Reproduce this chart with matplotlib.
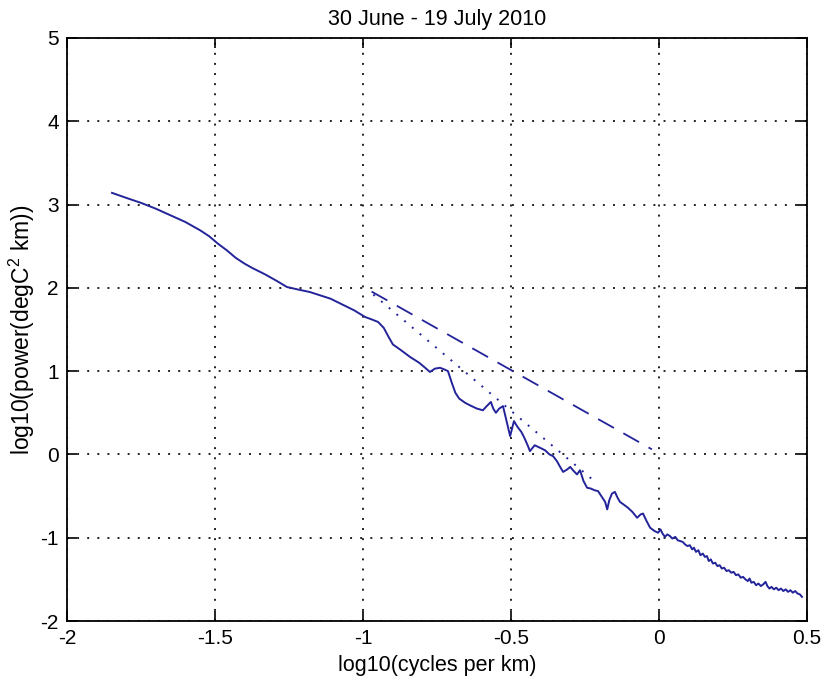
import numpy as np
import matplotlib.pyplot as plt

plt.rcParams['font.family'] = ['Liberation Sans', 'DejaVu Sans']
plt.rcParams['mathtext.default'] = 'regular'
plt.rcParams['axes.unicode_minus'] = False

# wavenumber spectrum (log10 cycles per km vs log10 power)
log_k = [-1.848, -1.80, -1.75, -1.70, -1.65, -1.60, -1.55, -1.52, -1.49, -1.46,
         -1.43, -1.40, -1.375, -1.33, -1.29, -1.257, -1.22, -1.18, -1.145, -1.11,
         -1.07, -1.03, -0.993, -0.97, -0.949, -0.93, -0.915, -0.899, -0.875, -0.841,
         -0.81, -0.79, -0.774, -0.757, -0.74, -0.725, -0.713, -0.70, -0.688, -0.675,
         -0.655, -0.639, -0.615, -0.595, -0.582, -0.568, -0.56, -0.551, -0.54, -0.527,
         -0.515, -0.503, -0.49, -0.478, -0.465, -0.455, -0.445, -0.436, -0.42, -0.402,
         -0.385, -0.37, -0.358, -0.345, -0.334, -0.324, -0.31, -0.30, -0.288, -0.277,
         -0.267, -0.255, -0.243, -0.23, -0.218, -0.206, -0.195, -0.182, -0.175, -0.168,
         -0.159, -0.149, -0.14, -0.132, -0.12, -0.105, -0.09, -0.074, -0.062, -0.054,
         -0.042, -0.03, -0.015, -0.003, 0.005, 0.012, 0.020, 0.028, 0.037, 0.045,
         0.055, 0.063, 0.071, 0.080, 0.088, 0.096, 0.104, 0.112, 0.118, 0.125,
         0.133, 0.140, 0.148, 0.155, 0.162, 0.168, 0.175, 0.182, 0.190, 0.197,
         0.205, 0.212, 0.220, 0.228, 0.236, 0.244, 0.252, 0.260, 0.268, 0.276,
         0.284, 0.292, 0.300, 0.306, 0.312, 0.320, 0.328, 0.336, 0.344, 0.352,
         0.360, 0.366, 0.373, 0.380, 0.388, 0.396, 0.404, 0.412, 0.420, 0.428,
         0.436, 0.444, 0.452, 0.460, 0.468, 0.476, 0.483]
log_p = [3.14, 3.08, 3.02, 2.95, 2.87, 2.79, 2.69, 2.62, 2.53, 2.45,
         2.36, 2.29, 2.24, 2.16, 2.08, 2.01, 1.98, 1.95, 1.91, 1.87,
         1.80, 1.73, 1.65, 1.62, 1.59, 1.52, 1.42, 1.32, 1.26, 1.17,
         1.10, 1.04, 0.99, 1.03, 1.04, 1.02, 1.00, 0.86, 0.74, 0.67,
         0.62, 0.59, 0.55, 0.53, 0.58, 0.63, 0.55, 0.50, 0.55, 0.58,
         0.40, 0.22, 0.40, 0.33, 0.27, 0.20, 0.12, 0.04, 0.11, 0.08,
         0.05, 0.00, -0.02, -0.08, -0.15, -0.21, -0.18, -0.15, -0.20, -0.24,
         -0.19, -0.32, -0.40, -0.41, -0.43, -0.44, -0.50, -0.57, -0.66, -0.55,
         -0.47, -0.45, -0.52, -0.57, -0.60, -0.64, -0.69, -0.76, -0.72, -0.71,
         -0.80, -0.88, -0.92, -0.94, -0.90, -0.95, -0.99, -0.96, -0.98, -1.01,
         -0.99, -1.03, -1.04, -1.05, -1.08, -1.10, -1.09, -1.14, -1.12, -1.17,
         -1.15, -1.21, -1.19, -1.23, -1.22, -1.28, -1.26, -1.31, -1.30, -1.34,
         -1.33, -1.37, -1.36, -1.40, -1.39, -1.42, -1.41, -1.45, -1.44, -1.48,
         -1.47, -1.50, -1.52, -1.49, -1.54, -1.53, -1.57, -1.55, -1.58, -1.56,
         -1.53, -1.58, -1.61, -1.59, -1.62, -1.60, -1.63, -1.61, -1.64, -1.62,
         -1.65, -1.63, -1.66, -1.64, -1.67, -1.68, -1.71]

# reference slopes: k^-2 (dashed) and k^-3 (dotted)
slope2_k = [-0.971, -0.024]
slope2_p = [1.955, 0.061]
slope3_k = [-0.965, -0.215]
slope3_p = [1.919, -0.331]

line_color = '#23239a'

fig = plt.figure(figsize=(8.25, 6.82), dpi=100)
ax = fig.add_axes([0.0812, 0.0894, 0.8970, 0.8550])

ax.plot(log_k, log_p, color=line_color, lw=1.4)
ax.plot(slope2_k, slope2_p, color=line_color, lw=1.3, dashes=(10, 6))
ax.plot(slope3_k, slope3_p, color=line_color, lw=1.4, dashes=(1, 4.2))

ax.set_xlim(-2, 0.5)
ax.set_ylim(-2, 5)
ax.set_xticks(np.arange(-2, 0.51, 0.5))
ax.set_xticklabels(['-2', '-1.5', '-1', '-0.5', '0', '0.5'])
ax.set_yticks(range(-2, 6))

ax.grid(True, color='#222222', lw=1.4, dashes=(1, 4.2))
ax.tick_params(direction='in', top=True, right=True, length=7, width=1.2,
               labelsize=15, pad=6)
for sp in ax.spines.values():
    sp.set_linewidth(1.3)

ax.set_xlabel('log10(cycles per km)', fontsize=15.5, labelpad=5)
ax.set_ylabel('log10(power(degC$^{2}$ km))', fontsize=16.5, labelpad=2)
ax.set_title('30 June - 19 July 2010', fontsize=15.5, pad=9)

fig.savefig('out.png', dpi=100)
